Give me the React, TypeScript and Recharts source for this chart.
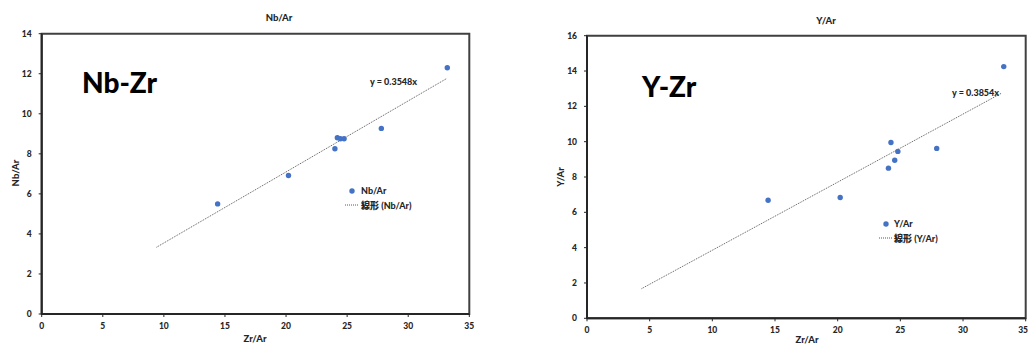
import React from 'react';
import {
  ScatterChart,
  Scatter,
  XAxis,
  YAxis,
  ReferenceLine,
  ReferenceArea,
} from 'recharts';

// Nb/Ar vs Zr/Ar
const nbZr = [14.4, 20.2, 24.0, 24.2, 24.45, 24.75, 27.8, 33.2];
const nbAr = [5.5, 6.92, 8.25, 8.8, 8.75, 8.75, 9.27, 12.3];
const nbSlope = 0.3548;
const nbTrendX = [9.4, 33.15];

// Y/Ar vs Zr/Ar
const yZr = [14.45, 20.2, 24.05, 24.25, 24.55, 24.8, 27.9, 33.25];
const yAr = [6.68, 6.84, 8.5, 9.95, 8.95, 9.45, 9.62, 14.25];
const ySlope = 0.3854;
const yTrendX = [4.35, 33.1];

const xTicks = [0, 5, 10, 15, 20, 25, 30, 35];
const nbTicks = [0, 2, 4, 6, 8, 10, 12, 14];
const yTicks = [0, 2, 4, 6, 8, 10, 12, 14, 16];

const FONT = "Lato, 'Noto Sans CJK JP', sans-serif";
const DOT = '#4472C4';
const tickStyle = { fontSize: 8.5, fontWeight: 900, fill: '#262626', fontFamily: FONT };

const dot = (p: any) => <circle cx={p.cx} cy={p.cy} r={2.7} fill={DOT} />;

// x tick that keeps the label inside the chart when it sits at the right edge
const edgeTick = (maxX: number) => (p: any) => {
  const tooFar = p.x + 6 > maxX;
  return (
    <text
      x={tooFar ? maxX - 1 : p.x}
      y={p.y}
      dy="0.71em"
      textAnchor={tooFar ? 'end' : 'middle'}
      {...tickStyle}
    >
      {p.payload.value}
    </text>
  );
};

function Panel(props: {
  left: number;
  width: number;
  xs: number[];
  ys: number[];
  slope: number;
  trend: number[];
  yMax: number;
  yTickList: number[];
  yAxisWidth: number;
  top: number;
  right: number;
  xAxisHeight: number;
}) {
  const data = props.xs.map((x, i) => ({ x, y: props.ys[i] }));
  const seg = props.trend.map((x) => ({ x, y: props.slope * x }));
  return (
    <div style={{ position: 'absolute', left: props.left, top: 0 }}>
      <ScatterChart
        width={props.width}
        height={345}
        margin={{ top: props.top, right: props.right, bottom: 0, left: 0 }}
      >
        <XAxis
          type="number"
          dataKey="x"
          domain={[0, 35]}
          ticks={xTicks}
          height={props.xAxisHeight}
          tickSize={3}
          tickMargin={6}
          tick={edgeTick(props.width)}
          axisLine={{ stroke: '#262626', strokeWidth: 2 }}
          tickLine={{ stroke: '#262626' }}
          interval={0}
        />
        <YAxis
          type="number"
          dataKey="y"
          domain={[0, props.yMax]}
          ticks={props.yTickList}
          width={props.yAxisWidth}
          tickSize={3}
          tickMargin={7}
          tick={tickStyle}
          axisLine={{ stroke: '#262626', strokeWidth: 2 }}
          tickLine={{ stroke: '#262626' }}
          interval={0}
        />
        <ReferenceArea
          x1={0}
          x2={35}
          y1={0}
          y2={props.yMax}
          fill="none"
          stroke="#404040"
          strokeWidth={2}
          ifOverflow="visible"
        />
        <ReferenceLine
          segment={seg}
          stroke="#595959"
          strokeWidth={1}
          strokeDasharray="1 1"
          ifOverflow="visible"
        />
        <Scatter data={data} shape={dot} isAnimationActive={false} />
      </ScatterChart>
    </div>
  );
}

const txt = { fontFamily: FONT, fontWeight: 900, fill: '#262626' } as const;

export default function App() {
  return (
    <div
      style={{
        position: 'absolute',
        left: 0,
        top: 0,
        width: 1029,
        height: 345,
        background: '#fff',
        overflow: 'hidden',
      }}
    >
      <Panel
        left={0}
        width={480}
        xs={nbZr}
        ys={nbAr}
        slope={nbSlope}
        trend={nbTrendX}
        yMax={14}
        yTickList={nbTicks}
        yAxisWidth={41.7}
        top={33.7}
        right={10.7}
        xAxisHeight={31}
      />
      <Panel
        left={540}
        width={489}
        xs={yZr}
        ys={yAr}
        slope={ySlope}
        trend={yTrendX}
        yMax={16}
        yTickList={yTicks}
        yAxisWidth={47}
        top={35.7}
        right={3.3}
        xAxisHeight={26.7}
      />
      <svg
        width={1029}
        height={345}
        style={{ position: 'absolute', left: 0, top: 0, pointerEvents: 'none' }}
      >
        {/* left panel texts */}
        <text x={279} y={21} textAnchor="middle" fontSize={9.5} {...txt}>Nb/Ar</text>
        <text x={255} y={342} textAnchor="middle" fontSize={9.5} {...txt}>Zr/Ar</text>
        <text
          x={15}
          y={173}
          textAnchor="middle"
          dominantBaseline="central"
          fontSize={9.5}
          transform="rotate(-90 15 173)"
          {...txt}
        >
          Nb/Ar
        </text>
        <text x={82} y={93} fontSize={28} {...txt} fill="#000">Nb-Zr</text>
        <text x={370} y={85} fontSize={9} {...txt}>y = 0.3548x</text>
        <circle cx={352} cy={191} r={2.7} fill={DOT} />
        <text x={361} y={194} fontSize={9} {...txt}>Nb/Ar</text>
        <line x1={345} y1={205} x2={359} y2={205} stroke="#595959" strokeDasharray="1 1" />
        <text x={361} y={208.5} fontSize={9} {...txt}>線形 (Nb/Ar)</text>

        {/* right panel texts */}
        <text x={826} y={24} textAnchor="middle" fontSize={9.5} {...txt}>Y/Ar</text>
        <text x={807} y={343} textAnchor="middle" fontSize={9.5} {...txt}>Zr/Ar</text>
        <text
          x={560}
          y={177}
          textAnchor="middle"
          dominantBaseline="central"
          fontSize={9.5}
          transform="rotate(-90 560 177)"
          {...txt}
        >
          Y/Ar
        </text>
        <text x={642} y={97} fontSize={28} {...txt} fill="#000">Y-Zr</text>
        <text x={952} y={96} fontSize={9} {...txt}>y = 0.3854x</text>
        <circle cx={886} cy={224} r={2.7} fill={DOT} />
        <text x={894} y={227} fontSize={9} {...txt}>Y/Ar</text>
        <line x1={879} y1={238} x2={893} y2={238} stroke="#595959" strokeDasharray="1 1" />
        <text x={894} y={241.5} fontSize={9} {...txt}>線形 (Y/Ar)</text>
      </svg>
    </div>
  );
}
